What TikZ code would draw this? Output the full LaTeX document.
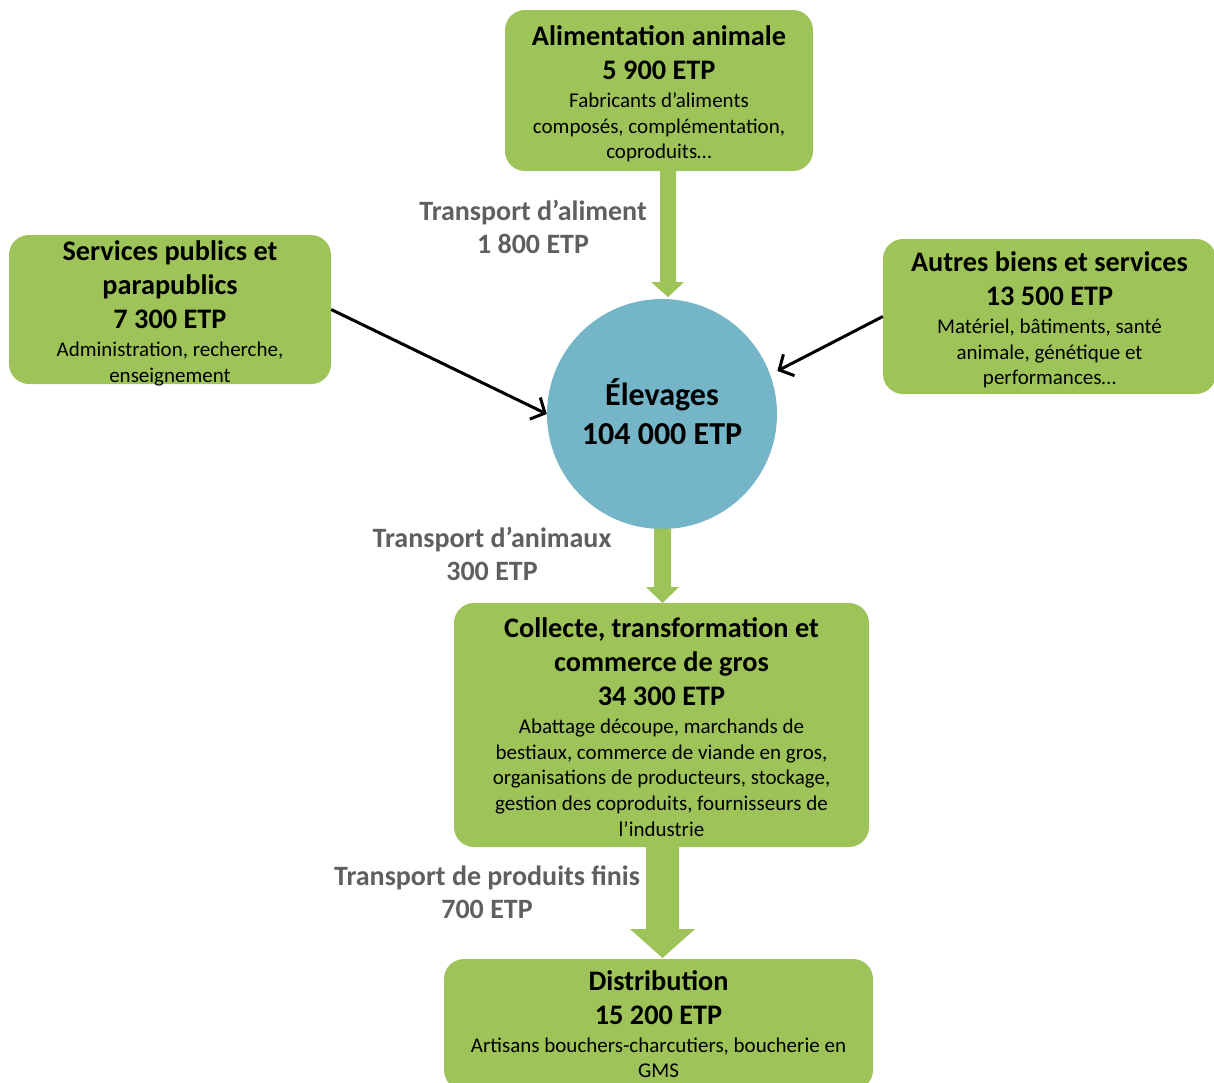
\documentclass[tikz,border=0pt]{standalone}
\usepackage{fontspec}
\setmainfont{Carlito}
\usetikzlibrary{arrows.meta,calc}
\definecolor{boxgreen}{RGB}{158,196,89}
\definecolor{circblue}{RGB}{116,181,199}
\definecolor{labelgray}{RGB}{95,95,95}
\tikzset{
  box/.style={fill=boxgreen, rounded corners=20pt, inner sep=0pt},
  boxtext/.style={inner sep=0pt, align=center,
    font=\bfseries\fontsize{28.3}{34}\selectfont, text=black},
  thinarrow/.style={line width=3pt, -{Straight Barb[length=11pt,width=24pt]}},
  flow/.style={fill=boxgreen},
  lbl/.style={align=center, text=labelgray, font=\bfseries\fontsize{28}{33}\selectfont, inner sep=0pt},
}
\newcommand{\smtxt}[1]{{\mdseries\fontsize{21}{34}\selectfont #1}}
\begin{document}
\begin{tikzpicture}[x=1pt,y=-1pt]
\useasboundingbox (0,0) rectangle (1214,1082);

% boxes
\node[box, minimum width=308pt, minimum height=161pt] (alim) at (659,90.5) {};
\node[box, minimum width=322pt, minimum height=149pt] (serv) at (170,309.5) {};
\node[box, minimum width=333pt, minimum height=155pt] (autr) at (1049.5,316.5) {};
\node[circle, fill=circblue, minimum size=230pt, inner sep=0pt] (elev) at (662,414) {};
\node[box, minimum width=415pt, minimum height=244pt] (coll) at (661.5,725) {};
\node[box, minimum width=429pt, minimum height=131pt] (dist) at (658.5,1024.5) {};

% box texts
\node[boxtext] (alimt) at ($(alim.center)+(0,3.5)$)
  {Alimentation animale\\5 900 ETP\\[-6pt]\smtxt{Fabricants d’aliments}\\[-8.4pt]\smtxt{composés, complémentation,}\\[-8.4pt]\smtxt{coproduits…}};
\node[boxtext] (servt) at ($(serv.center)+(0,4)$)
  {Services publics et\\parapublics\\7 300 ETP\\[-6pt]\smtxt{Administration, recherche,}\\[-8.4pt]\smtxt{enseignement}};
\node[boxtext] (autrt) at ($(autr.center)+(0,3.5)$)
  {Autres biens et services\\13 500 ETP\\[-6pt]\smtxt{Matériel, bâtiments, santé}\\[-8.4pt]\smtxt{animale, génétique et}\\[-8.4pt]\smtxt{performances…}};
\node[boxtext, font=\bfseries\fontsize{32}{39}\selectfont] (elevt) at ($(elev.center)+(0,-2)$)
  {Élevages\\104 000 ETP};
\node[boxtext] (collt) at ($(coll.center)+(0,2)$)
  {Collecte, transformation et\\commerce de gros\\34 300 ETP\\[-6pt]\smtxt{Abattage découpe, marchands de}\\[-8.4pt]\smtxt{bestiaux, commerce de viande en gros,}\\[-8.4pt]\smtxt{organisations de producteurs, stockage,}\\[-8.4pt]\smtxt{gestion des coproduits, fournisseurs de}\\[-8.4pt]\smtxt{l’industrie}};
\node[boxtext] (distt) at ($(dist.center)+(0,-0.5)$)
  {Distribution\\15 200 ETP\\[-6pt]\smtxt{Artisans bouchers-charcutiers, boucherie en}\\[-8.4pt]\smtxt{GMS}};

% flow arrows
\fill[flow] (660,171) -- (676,171) -- (676,282) -- (684,282) -- (668,297) -- (651,282) -- (660,282) -- cycle;
\fill[flow] (654,528.5) -- (671,528.5) -- (671,587) -- (679,587) -- (662.5,603) -- (646,587) -- (654,587) -- cycle;
\fill[flow] (646,847) -- (679,847) -- (679,929) -- (695,929) -- (662.5,958) -- (630,929) -- (646,929) -- cycle;

% thin arrows
\draw[thinarrow] (serv.east) -- (elev.west);
\draw[thinarrow, shorten >=8pt] (autr.west) -- (elev.20);

% labels
\node[lbl] (lalim) at (533,226.5) {Transport d’aliment\\1 800 ETP};
\node[lbl] (lanim) at (492,554) {Transport d’animaux\\300 ETP};
\node[lbl] (lprod) at (487,892) {Transport de produits finis\\700 ETP};
\end{tikzpicture}
\end{document}
